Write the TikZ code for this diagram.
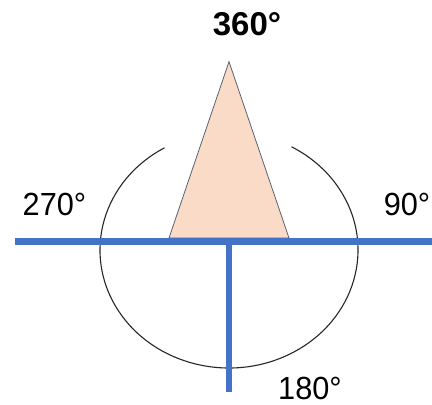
\documentclass[tikz,border=0pt]{standalone}
\usepackage{fontspec}
\setmainfont{Liberation Sans}
\newfontfamily\lblfont[FakeStretch=0.96]{Liberation Sans}
\definecolor{axisblue}{HTML}{4472C4}
\definecolor{peach}{HTML}{FADBC8}
\definecolor{edgegray}{HTML}{5A6270}
\begin{document}
\begin{tikzpicture}[x=1pt,y=1pt,
  axis/.style={draw=axisblue,line width=6.5pt},
  lbl/.style={inner sep=0pt,font=\lblfont\fontsize{32}{36}\selectfont},
  boldlbl/.style={inner sep=0pt,font=\fontsize{33}{37}\selectfont\bfseries}]
\useasboundingbox (0,0) rectangle (432,405);
% triangle
\coordinate (apex) at (229,343.3);
\coordinate (bl) at (169,167);
\coordinate (br) at (289,167);
\filldraw[fill=peach,draw=edgegray,line width=0.8pt,line join=miter] (bl) -- (apex) -- (br) -- cycle;
% arc
\draw[black!85,line width=1.1pt] (229,155) ++(120:129 and 118) arc[start angle=120,end angle=421,x radius=129,y radius=118];
% axes
\coordinate (hl) at (15,163.5);
\coordinate (hr) at (432,163.5);
\coordinate (vt) at (229,163.5);
\coordinate (vb) at (229,13);
\draw[axis] (hl) -- (hr);
\draw[axis] (vt) -- (vb);
% labels
\node[boldlbl] (n360) at (247,381) {360°};
\node[lbl] (n270) at (54.5,200.5) {270°};
\node[lbl] (n90) at (407,200.5) {90°};
\node[lbl] (n180) at (310,16.5) {180°};
\end{tikzpicture}
\end{document}
